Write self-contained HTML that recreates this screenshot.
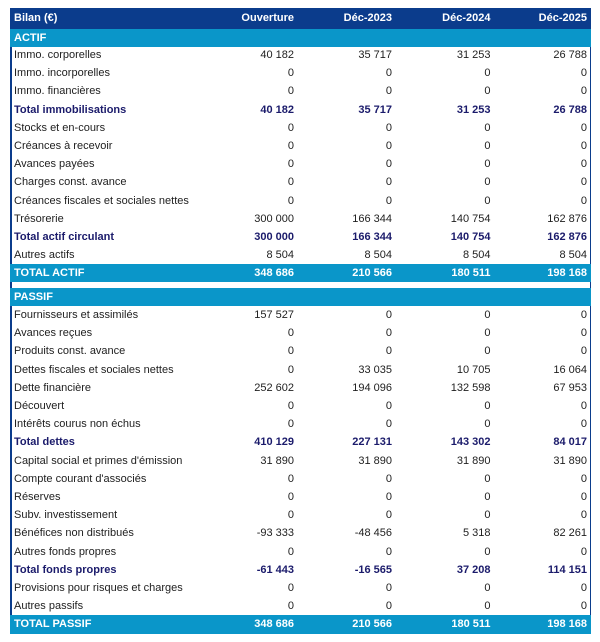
<!DOCTYPE html>
<html><head><meta charset="utf-8">
<style>
*{margin:0;padding:0;box-sizing:border-box}
html,body{width:600px;height:642px;background:#fff;overflow:hidden}
body{position:relative;font-family:"Liberation Sans",Arial,sans-serif;font-size:11px;color:#1e1e1e}
.r{position:absolute;left:10px;width:581px;height:18.19px;line-height:18.19px;white-space:nowrap}
.r span{position:absolute;top:0}
.l{left:4px}
.c1{right:297px}.c2{right:199px}.c3{right:100.5px}.c4{right:4px}
.b{font-weight:bold;color:#1b1b6b}
.hd{background:#0b3c8c;color:#fff;font-weight:bold;height:21px;line-height:21px}
.sec{background:#0a96c9;color:#fff;font-weight:bold}
.tot{background:#0a96c9;color:#fff;font-weight:bold}
.bl{position:absolute;background:#0b3c8c}
</style></head><body>
<div class="bl" style="left:10px;top:8px;width:1.5px;height:626px"></div>
<div class="bl" style="left:589.5px;top:8px;width:1.5px;height:626px"></div>

<div class="r hd" style="top:8px"><span class="l">Bilan (€)</span><span class="c1">Ouverture</span><span class="c2">Déc-2023</span><span class="c3">Déc-2024</span><span class="c4">Déc-2025</span></div>
<div class="r sec" style="top:29px"><span class="l">ACTIF</span></div>

<div class="r" style="top:46px"><span class="l">Immo. corporelles</span><span class="c1">40 182</span><span class="c2">35 717</span><span class="c3">31 253</span><span class="c4">26 788</span></div>
<div class="r" style="top:64.2px"><span class="l">Immo. incorporelles</span><span class="c1">0</span><span class="c2">0</span><span class="c3">0</span><span class="c4">0</span></div>
<div class="r" style="top:82.4px"><span class="l">Immo. financières</span><span class="c1">0</span><span class="c2">0</span><span class="c3">0</span><span class="c4">0</span></div>
<div class="r b" style="top:100.6px"><span class="l">Total immobilisations</span><span class="c1">40 182</span><span class="c2">35 717</span><span class="c3">31 253</span><span class="c4">26 788</span></div>
<div class="r" style="top:118.7px"><span class="l">Stocks et en-cours</span><span class="c1">0</span><span class="c2">0</span><span class="c3">0</span><span class="c4">0</span></div>
<div class="r" style="top:136.9px"><span class="l">Créances à recevoir</span><span class="c1">0</span><span class="c2">0</span><span class="c3">0</span><span class="c4">0</span></div>
<div class="r" style="top:155.1px"><span class="l">Avances payées</span><span class="c1">0</span><span class="c2">0</span><span class="c3">0</span><span class="c4">0</span></div>
<div class="r" style="top:173.3px"><span class="l">Charges const. avance</span><span class="c1">0</span><span class="c2">0</span><span class="c3">0</span><span class="c4">0</span></div>
<div class="r" style="top:191.5px"><span class="l">Créances fiscales et sociales nettes</span><span class="c1">0</span><span class="c2">0</span><span class="c3">0</span><span class="c4">0</span></div>
<div class="r" style="top:209.7px"><span class="l">Trésorerie</span><span class="c1">300 000</span><span class="c2">166 344</span><span class="c3">140 754</span><span class="c4">162 876</span></div>
<div class="r b" style="top:227.9px"><span class="l">Total actif circulant</span><span class="c1">300 000</span><span class="c2">166 344</span><span class="c3">140 754</span><span class="c4">162 876</span></div>
<div class="r" style="top:246.1px"><span class="l">Autres actifs</span><span class="c1">8 504</span><span class="c2">8 504</span><span class="c3">8 504</span><span class="c4">8 504</span></div>
<div class="r tot" style="top:264.2px"><span class="l">TOTAL ACTIF</span><span class="c1">348 686</span><span class="c2">210 566</span><span class="c3">180 511</span><span class="c4">198 168</span></div>

<div class="r sec" style="top:288px"><span class="l">PASSIF</span></div>

<div class="r" style="top:306px"><span class="l">Fournisseurs et assimilés</span><span class="c1">157 527</span><span class="c2">0</span><span class="c3">0</span><span class="c4">0</span></div>
<div class="r" style="top:324.2px"><span class="l">Avances reçues</span><span class="c1">0</span><span class="c2">0</span><span class="c3">0</span><span class="c4">0</span></div>
<div class="r" style="top:342.4px"><span class="l">Produits const. avance</span><span class="c1">0</span><span class="c2">0</span><span class="c3">0</span><span class="c4">0</span></div>
<div class="r" style="top:360.6px"><span class="l">Dettes fiscales et sociales nettes</span><span class="c1">0</span><span class="c2">33 035</span><span class="c3">10 705</span><span class="c4">16 064</span></div>
<div class="r" style="top:378.8px"><span class="l">Dette financière</span><span class="c1">252 602</span><span class="c2">194 096</span><span class="c3">132 598</span><span class="c4">67 953</span></div>
<div class="r" style="top:397px"><span class="l">Découvert</span><span class="c1">0</span><span class="c2">0</span><span class="c3">0</span><span class="c4">0</span></div>
<div class="r" style="top:415.1px"><span class="l">Intérêts courus non échus</span><span class="c1">0</span><span class="c2">0</span><span class="c3">0</span><span class="c4">0</span></div>
<div class="r b" style="top:433.3px"><span class="l">Total dettes</span><span class="c1">410 129</span><span class="c2">227 131</span><span class="c3">143 302</span><span class="c4">84 017</span></div>
<div class="r" style="top:451.5px"><span class="l">Capital social et primes d'émission</span><span class="c1">31 890</span><span class="c2">31 890</span><span class="c3">31 890</span><span class="c4">31 890</span></div>
<div class="r" style="top:469.7px"><span class="l">Compte courant d'associés</span><span class="c1">0</span><span class="c2">0</span><span class="c3">0</span><span class="c4">0</span></div>
<div class="r" style="top:487.9px"><span class="l">Réserves</span><span class="c1">0</span><span class="c2">0</span><span class="c3">0</span><span class="c4">0</span></div>
<div class="r" style="top:506.1px"><span class="l">Subv. investissement</span><span class="c1">0</span><span class="c2">0</span><span class="c3">0</span><span class="c4">0</span></div>
<div class="r" style="top:524.3px"><span class="l">Bénéfices non distribués</span><span class="c1">-93 333</span><span class="c2">-48 456</span><span class="c3">5 318</span><span class="c4">82 261</span></div>
<div class="r" style="top:542.5px"><span class="l">Autres fonds propres</span><span class="c1">0</span><span class="c2">0</span><span class="c3">0</span><span class="c4">0</span></div>
<div class="r b" style="top:560.7px"><span class="l">Total fonds propres</span><span class="c1">-61 443</span><span class="c2">-16 565</span><span class="c3">37 208</span><span class="c4">114 151</span></div>
<div class="r" style="top:578.9px"><span class="l">Provisions pour risques et charges</span><span class="c1">0</span><span class="c2">0</span><span class="c3">0</span><span class="c4">0</span></div>
<div class="r" style="top:597.1px"><span class="l">Autres passifs</span><span class="c1">0</span><span class="c2">0</span><span class="c3">0</span><span class="c4">0</span></div>
<div class="r tot" style="top:615.2px;height:19px;line-height:19px"><span class="l">TOTAL PASSIF</span><span class="c1">348 686</span><span class="c2">210 566</span><span class="c3">180 511</span><span class="c4">198 168</span></div>
</body></html>
